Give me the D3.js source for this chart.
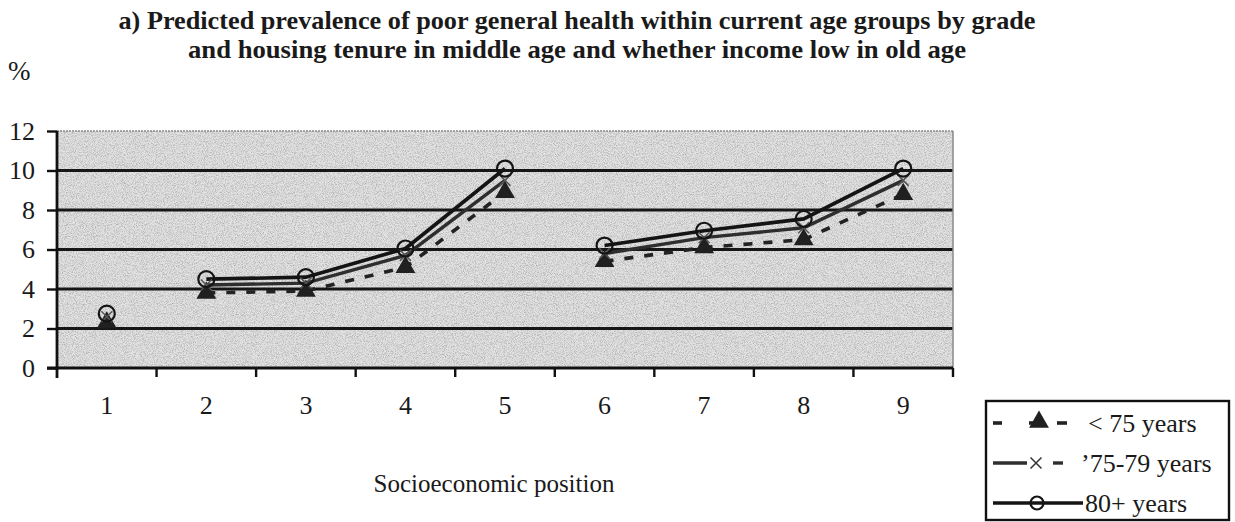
<!DOCTYPE html>
<meta charset="utf-8">
<script src="https://d3js.org/d3.v7.min.js"></script>
<style>
  body { margin: 0; background: #fff; }
  svg text { font-family: "Liberation Serif", "Times New Roman", serif; fill: #1a1a1a; }
</style>
<body>
<div id="chart"></div>
<script>
// data
const positions = ["1", "2", "3", "4", "5", "6", "7", "8", "9"];
const under75 = [2.3, 3.8, 3.9, 5.1, 8.9, 5.4, 6.1, 6.5, 8.8];
const age75to79 = [2.6, 4.2, 4.3, 5.7, 9.5, 5.8, 6.6, 7.1, 9.5];
const age80plus = [2.75, 4.5, 4.6, 6.05, 10.1, 6.2, 6.95, 7.55, 10.1];
const yTicks = [0, 2, 4, 6, 8, 10, 12];
const seriesNames = ["< 75 years", "\u201975-79 years", "80+ years"];
// lines are drawn for positions 2-5 and 6-9 only (index ranges)
const runs = [[1, 5], [5, 9]];

const width = 1235, height = 522;
const margin = {top: 131, right: 282, bottom: 154, left: 57};

const svg = d3.select("#chart").append("svg")
  .attr("width", width)
  .attr("height", height);

const defs = svg.append("defs");
const noise = defs.append("filter").attr("id", "speckle")
  .attr("x", 0).attr("y", 0).attr("width", 1).attr("height", 1);
noise.append("feTurbulence").attr("type", "fractalNoise")
  .attr("baseFrequency", 1.1).attr("numOctaves", 2).attr("seed", 3);
noise.append("feColorMatrix").attr("type", "matrix")
  .attr("values", "0 0 0 0 0  0 0 0 0 0  0 0 0 0 0  0 0 0 -2 1.2");
noise.append("feComposite").attr("in2", "SourceGraphic").attr("operator", "in");

const x = d3.scaleBand()
  .domain(positions)
  .range([margin.left, width - margin.right])
  .padding(0);

const y = d3.scaleLinear()
  .domain([0, 12])
  .range([height - margin.bottom, margin.top]);

const cx = d => x(d) + x.bandwidth() / 2;

// plot background
svg.append("rect")
  .attr("x", x.range()[0]).attr("y", y(12))
  .attr("width", x.range()[1] - x.range()[0])
  .attr("height", y(0) - y(12))
  .attr("fill", "#e2e2e2");
svg.append("rect")
  .attr("x", x.range()[0]).attr("y", y(12))
  .attr("width", x.range()[1] - x.range()[0])
  .attr("height", y(0) - y(12))
  .attr("fill", "#9a9a9a")
  .attr("filter", "url(#speckle)")
  .attr("opacity", 0.25);

// gridlines
svg.append("g")
  .selectAll("line")
  .data(yTicks.filter(t => t > 0 && t < 12))
  .join("line")
    .attr("x1", x.range()[0]).attr("x2", x.range()[1])
    .attr("y1", d => y(d)).attr("y2", d => y(d))
    .attr("stroke", "#161616")
    .attr("stroke-width", 2.8);
svg.append("line")
  .attr("x1", x.range()[0]).attr("x2", x.range()[1])
  .attr("y1", y(12)).attr("y2", y(12))
  .attr("stroke", "#8a8a8a").attr("stroke-width", 1.5)
  .attr("stroke-dasharray", "2,1");
svg.append("line")
  .attr("x1", x.range()[1]).attr("x2", x.range()[1])
  .attr("y1", y(12)).attr("y2", y(0))
  .attr("stroke", "#8a8a8a").attr("stroke-width", 1.5);

// y axis
const yAxis = svg.append("g")
  .attr("transform", `translate(${margin.left},0)`)
  .call(d3.axisLeft(y).tickValues(yTicks).tickSize(10).tickPadding(12));
yAxis.select(".domain").attr("stroke", "#111").attr("stroke-width", 2.8)
  .attr("d", `M0,${y(12)}V${y(0) + 10}`);
yAxis.selectAll(".tick line").attr("stroke", "#111").attr("stroke-width", 2.4);
yAxis.selectAll(".tick text")
  .attr("font-size", 26)
  .attr("font-family", "Liberation Serif, serif")
  .attr("fill", "#1a1a1a");

// x axis: ticks between categories
const xAxis = svg.append("g");
xAxis.append("line")
  .attr("x1", x.range()[0] - 10).attr("x2", x.range()[1])
  .attr("y1", y(0)).attr("y2", y(0))
  .attr("stroke", "#111").attr("stroke-width", 2.8);
xAxis.selectAll(".xt")
  .data(positions.slice(1).concat(["end"]))
  .join("line")
    .attr("class", "xt")
    .attr("x1", (d, i) => i < positions.length - 1 ? x(d) : x.range()[1])
    .attr("x2", (d, i) => i < positions.length - 1 ? x(d) : x.range()[1])
    .attr("y1", y(0)).attr("y2", y(0) + 9)
    .attr("stroke", "#111").attr("stroke-width", 2.4);
xAxis.selectAll(".xl")
  .data(positions)
  .join("text")
    .attr("class", "xl")
    .attr("x", d => cx(d))
    .attr("y", 414)
    .attr("text-anchor", "middle")
    .attr("font-size", 26)
    .text(d => d);

// series
const series = [
  {values: under75, dash: "9,11", color: "#222", width: 3.6},
  {values: age75to79, dash: null, color: "#2e2e2e", width: 3.4},
  {values: age80plus, dash: null, color: "#141414", width: 3.6}
];

const segLine = d3.line()
  .x(d => cx(positions[d[0]]))
  .y(d => y(d[1]));

series.forEach(s => {
  const segs = runs.map(([a, b]) => s.values.slice(a, b).map((v, k) => [a + k, v]));
  svg.append("g").selectAll("path")
    .data(segs)
    .join("path")
      .attr("d", segLine)
      .attr("fill", "none")
      .attr("stroke", s.color)
      .attr("stroke-width", s.width)
      .attr("stroke-dasharray", s.dash);
});

// markers
const tri = d3.symbol().type(d3.symbolTriangle).size(170);
const cross = d3.symbol().type(d3.symbolX).size(80);

svg.append("g").selectAll("path")
  .data(under75)
  .join("path")
    .attr("d", tri)
    .attr("transform", (d, i) => `translate(${cx(positions[i])},${y(d)})`)
    .attr("fill", "#202020");

svg.append("g").selectAll("path")
  .data(age75to79)
  .join("path")
    .attr("d", cross)
    .attr("transform", (d, i) => `translate(${cx(positions[i])},${y(d)})`)
    .attr("fill", "none")
    .attr("stroke", "#555")
    .attr("stroke-width", 1.5);

svg.append("g").selectAll("circle")
  .data(age80plus)
  .join("circle")
    .attr("cx", (d, i) => cx(positions[i]))
    .attr("cy", d => y(d))
    .attr("r", 8)
    .attr("fill", "none")
    .attr("stroke", "#141414")
    .attr("stroke-width", 2.2);

// titles
svg.append("text")
  .attr("x", 577).attr("y", 29)
  .attr("text-anchor", "middle")
  .attr("font-size", 26).attr("font-weight", "bold")
  .attr("textLength", 917).attr("lengthAdjust", "spacingAndGlyphs")
  .text("a) Predicted prevalence of poor general health within current age groups by grade");
svg.append("text")
  .attr("x", 577).attr("y", 58)
  .attr("text-anchor", "middle")
  .attr("font-size", 26).attr("font-weight", "bold")
  .attr("textLength", 778).attr("lengthAdjust", "spacingAndGlyphs")
  .text("and housing tenure in middle age and whether income low in old age");
svg.append("text")
  .attr("x", 8).attr("y", 80)
  .attr("font-size", 27)
  .text("%");
svg.append("text")
  .attr("x", 494).attr("y", 492)
  .attr("text-anchor", "middle")
  .attr("font-size", 25)
  .text("Socioeconomic position");

// legend
const legend = svg.append("g");
legend.append("rect")
  .attr("x", 986).attr("y", 401)
  .attr("width", 243).attr("height", 119)
  .attr("fill", "#fff")
  .attr("stroke", "#111").attr("stroke-width", 2.4);

const rowsY = [423, 463, 503];
// row 1: dashes with triangle
legend.selectAll(".d1")
  .data([[993, 1002], [1029, 1036], [1057, 1067]])
  .join("line")
    .attr("class", "d1")
    .attr("x1", d => d[0]).attr("x2", d => d[1])
    .attr("y1", rowsY[0]).attr("y2", rowsY[0])
    .attr("stroke", "#222").attr("stroke-width", 3.6);
legend.append("path").attr("d", tri)
  .attr("transform", `translate(1039,${rowsY[0] - 1})`)
  .attr("fill", "#202020");
// row 2: solid then x then dash
legend.append("line")
  .attr("x1", 993).attr("x2", 1027).attr("y1", rowsY[1]).attr("y2", rowsY[1])
  .attr("stroke", "#2e2e2e").attr("stroke-width", 3.4);
legend.append("line")
  .attr("x1", 1053).attr("x2", 1063).attr("y1", rowsY[1]).attr("y2", rowsY[1])
  .attr("stroke", "#2e2e2e").attr("stroke-width", 3.4);
legend.append("path").attr("d", cross)
  .attr("transform", `translate(1036,${rowsY[1]})`)
  .attr("fill", "none").attr("stroke", "#333").attr("stroke-width", 1.5);
// row 3: solid with circle
legend.append("line")
  .attr("x1", 993).attr("x2", 1083).attr("y1", rowsY[2]).attr("y2", rowsY[2])
  .attr("stroke", "#141414").attr("stroke-width", 3.6);
legend.append("circle")
  .attr("cx", 1037).attr("cy", rowsY[2]).attr("r", 6.5)
  .attr("fill", "none").attr("stroke", "#141414").attr("stroke-width", 2.2);

legend.selectAll(".lt")
  .data(seriesNames)
  .join("text")
    .attr("class", "lt")
    .attr("x", (d, i) => [1088, 1081, 1085][i])
    .attr("y", (d, i) => rowsY[i] + 9)
    .attr("font-size", 26)
    .text(d => d);
</script>
</body>
